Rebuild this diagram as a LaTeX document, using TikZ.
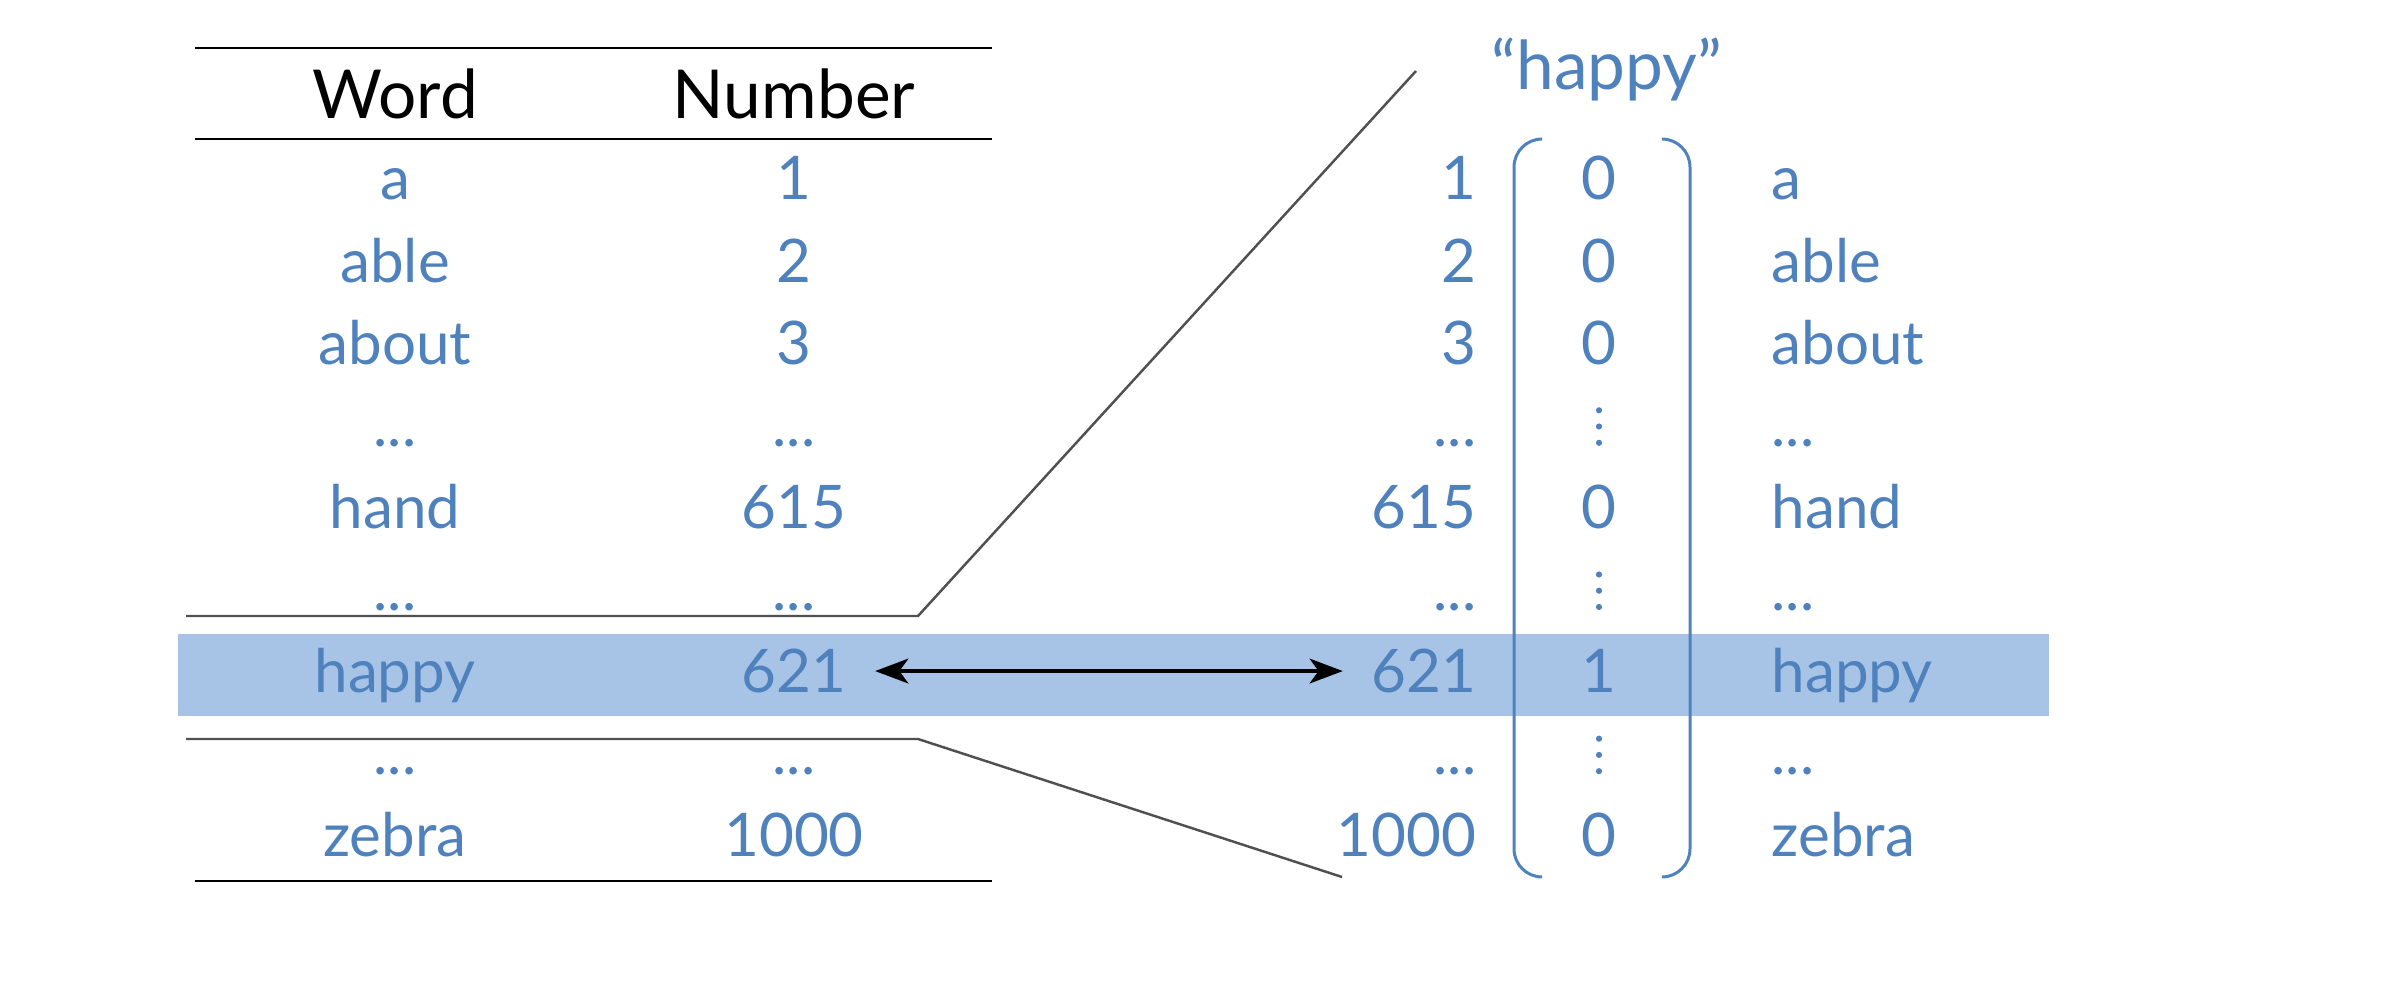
\documentclass[tikz,border=0pt]{standalone}
\usepackage{fontspec}
\setmainfont{Lato}
\usetikzlibrary{arrows.meta}
\definecolor{tblue}{HTML}{4F81BD}
\definecolor{bandc}{HTML}{A7C4E6}
\definecolor{gline}{HTML}{505050}
\newcommand{\mydots}{.\kern0pt.\kern0pt.}
\begin{document}
\begin{tikzpicture}[x=0.01cm,y=-0.01cm,
  hdr/.style={font=\fontsize{19.2}{23}\selectfont, text=black, inner sep=0pt, anchor=base},
  cell/.style={font=\fontsize{17.1}{21}\selectfont, text=tblue, inner sep=0pt, anchor=base},
  rnum/.style={cell, anchor=base east},
  rword/.style={cell, anchor=base west},
  title/.style={font=\fontsize{19.2}{23}\selectfont, text=tblue, inner sep=0pt, anchor=base},
  rule/.style={black, line width=0.85pt},
  zoomline/.style={gline, line width=0.7pt},
  brack/.style={tblue, line width=0.85pt, rounded corners=8pt},
  vdot/.style={fill=tblue, draw=none},
  link/.style={{Stealth[length=9.4pt,width=7pt,inset=2.5pt]}-{Stealth[length=9.4pt,width=7pt,inset=2.5pt]}, line width=1.25pt, shorten <=8pt, shorten >=8pt}
]
\useasboundingbox (0,0) rectangle (2408,994);
\fill[bandc] (178,634) rectangle (2049,716);

% left table rules
\draw[rule] (195,48) -- (992,48);
\draw[rule] (195,139) -- (992,139);
\draw[rule] (195,881) -- (992,881);

% header
\node[hdr] (hword) at (395,119) {Word};
\node[hdr] (hnum) at (794,119) {Number};

% title
\node[title] (ttl) at (1607,90) {“happy”};

% zoom lines
\draw[zoomline] (186,616) -- (918,616) -- (1416,71);
\draw[zoomline] (186,739) -- (918,739) -- (1342,877);

% bracket
\draw[brack] (1542,139) -- (1514,139) -- (1514,877) -- (1542,877);
\draw[brack] (1662,139) -- (1690,139) -- (1690,877) -- (1662,877);

\def\vmark{v}
\foreach \w/\n/\v [count=\i] in {a/1/0, able/2/0, about/3/0, \mydots/\mydots/v, hand/615/0, \mydots/\mydots/v, happy/621/1, \mydots/\mydots/v, zebra/1000/0} {
  \pgfmathsetmacro\yy{200+82.1*(\i-1)}
  \node[cell] (lw\i) at (395,\yy) {\w};
  \node[cell] (ln\i) at (794,\yy) {\n};
  \node[rnum] (rn\i) at (1477,\yy) {\n};
  \node[rword] (rw\i) at (1771,\yy) {\w};
  \edef\cur{\v}
  \ifx\cur\vmark
    \fill[vdot] (1599,\yy-3.5) circle[radius=0.88pt];
    \fill[vdot] (1599,\yy-19.8) circle[radius=0.88pt];
    \fill[vdot] (1599,\yy-36) circle[radius=0.88pt];
  \else
    \node[cell] (rv\i) at (1599,\yy) {\v};
  \fi
}

\draw[link] (ln7) -- (rn7);
\end{tikzpicture}
\end{document}
